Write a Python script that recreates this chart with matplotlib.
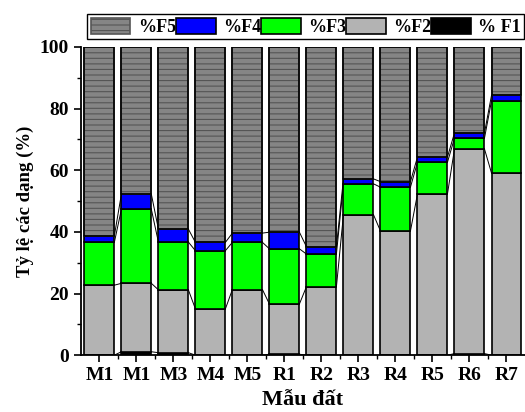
import numpy as np
import matplotlib
matplotlib.use('Agg')
import matplotlib.pyplot as plt

plt.rcParams['font.family'] = ['Liberation Serif', 'DejaVu Serif']
plt.rcParams['font.weight'] = 'bold'
plt.rcParams['hatch.linewidth'] = 0.8

samples = ['M1', 'M1', 'M3', 'M4', 'M5', 'R1', 'R2', 'R3', 'R4', 'R5', 'R6', 'R7']
f1 = [0.0, 1.1, 0.8, 0.0, 0.0, 0.3, 0.0, 0.0, 0.0, 0.0, 0.5, 0.0]
f2 = [22.7, 22.2, 20.4, 15.0, 21.3, 16.3, 22.2, 45.6, 40.3, 52.3, 66.4, 59.1]
f3 = [13.9, 24.0, 15.5, 18.9, 15.3, 17.9, 10.6, 10.0, 14.2, 10.3, 3.5, 23.4]
f4 = [2.1, 4.9, 4.2, 2.7, 3.0, 5.4, 2.4, 1.6, 1.8, 1.7, 1.7, 1.8]
f5 = [61.3, 47.8, 59.1, 63.4, 60.4, 60.1, 64.8, 42.8, 43.7, 35.7, 27.9, 15.7]

series = [('% F1', f1, 'black', None),
          ('%F2', f2, '#b3b3b3', None),
          ('%F3', f3, '#00ff00', None),
          ('%F4', f4, '#0000ff', None),
          ('%F5', f5, '#858585', '---')]

fig = plt.figure(figsize=(5.25, 4.12), dpi=100)
ax = fig.add_axes([0.154, 0.138, 0.846, 0.748])

x = np.arange(len(samples))
w = 0.81
bottom = np.zeros(len(samples))
handles = {}
tops = []
for name, vals, col, hatch in series:
    b = ax.bar(x, vals, w, bottom=bottom, color=col, edgecolor='black',
               linewidth=1.2, hatch=hatch, label=name)
    if hatch:
        for p in b:
            p.set_edgecolor('#555555')
        # black outline on top of the hatched bars
        ax.bar(x, vals, w, bottom=bottom, fill=False, edgecolor='black', linewidth=1.2)
    handles[name] = b
    bottom = bottom + np.array(vals)
    tops.append(bottom.copy())

# connecting lines between bar tops (origin style)
for t in tops[:-1]:
    for i in range(len(samples) - 1):
        ax.plot([x[i] + w / 2, x[i + 1] - w / 2], [t[i], t[i + 1]],
                color='black', lw=0.7, zorder=1)

ax.set_xlim(-0.5, 11.5)
ax.set_ylim(0, 100)
ax.set_xticks(x)
ax.set_xticklabels(samples)
ax.set_xticks(x[:-1] + 0.5, minor=True)
ax.set_yticks([0, 20, 40, 60, 80, 100])
ax.set_yticks([10, 30, 50, 70, 90], minor=True)
ax.tick_params(axis='both', which='major', direction='out', length=5, width=1.2, labelsize=14)
ax.tick_params(axis='both', which='minor', direction='out', length=3, width=1.0)
for s in ['top', 'right']:
    ax.spines[s].set_visible(False)
for s in ['left', 'bottom']:
    ax.spines[s].set_linewidth(1.3)

ax.set_xlabel('Mẫu đất', fontsize=16, fontweight='bold', labelpad=4)
ax.set_ylabel('Tỷ lệ các dạng (%)', fontsize=13.5, fontweight='bold', labelpad=4)

order = ['%F5', '%F4', '%F3', '%F2', '% F1']
leg = fig.legend([handles[k] for k in order], order, loc='upper left',
                 bbox_to_anchor=(0.166, 0.966), ncol=5, fontsize=13,
                 handlelength=2.2, handleheight=1.0, handletextpad=0.4,
                 columnspacing=0.0, borderpad=0.2, borderaxespad=0.0,
                 fancybox=False, edgecolor='black', framealpha=1)
leg.get_frame().set_linewidth(1.0)

fig.savefig('out.png', dpi=100)
